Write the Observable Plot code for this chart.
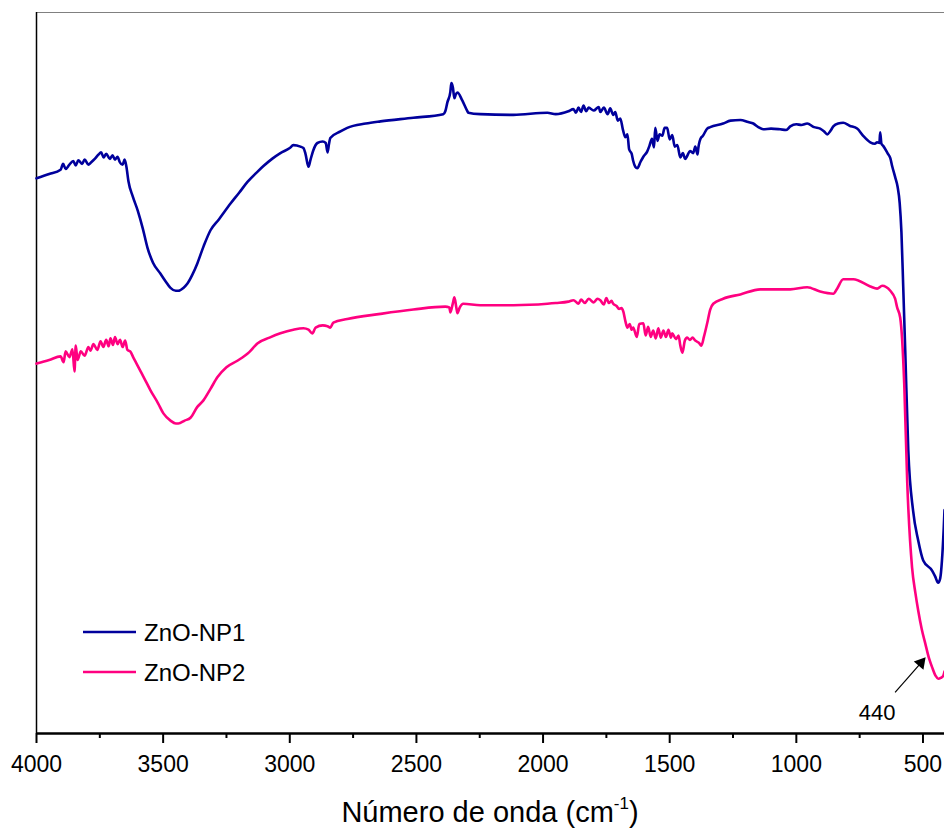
<!DOCTYPE html>
<html>
<head>
<meta charset="utf-8">
<script src="https://cdn.jsdelivr.net/npm/d3@7"></script>
<script src="https://cdn.jsdelivr.net/npm/@observablehq/plot@0.6"></script>
<style>
  html, body { margin: 0; padding: 0; background: #fff; }
  #chart { width: 944px; height: 830px; }
</style>
</head>
<body>
<div id="chart"></div>
<script>
// ---- Data (wavenumber cm^-1, transmittance a.u.) ----
const np1 = [
  [4000,77.0],[3950,77.6],[3905,78.2],[3895,79.0],[3885,78.3],[3870,78.9],[3855,79.4],[3845,78.8],
  [3835,79.5],[3820,79.0],[3810,79.6],[3795,78.9],[3785,79.2],[3770,79.7],[3755,80.3],[3745,80.6],
  [3735,79.9],[3725,80.4],[3710,79.7],[3700,80.2],[3690,79.6],[3680,80.0],[3672,79.3],[3660,78.9],
  [3652,79.6],[3645,78.6],[3637,76.6],[3620,74.5],[3600,72.5],[3580,70.0],[3562,67.4],[3540,65.3],
  [3511,63.8],[3490,62.7],[3471,61.8],[3450,61.4],[3440,61.4],[3420,61.8],[3404,62.4],[3385,63.6],
  [3365,65.2],[3340,67.6],[3313,69.8],[3280,71.3],[3234,73.5],[3200,75.0],[3167,76.5],[3128,77.9],
  [3104,78.7],[3070,79.7],[3037,80.5],[3000,81.2],[2986,81.6],[2958,81.4],[2946,81.2],[2938,80.4],
  [2926,78.6],[2918,79.6],[2907,80.9],[2891,81.9],[2870,82.1],[2858,81.9],[2851,80.6],[2845,81.8],
  [2840,82.6],[2800,83.5],[2773,84.0],[2700,84.6],[2642,84.9],[2512,85.4],[2394,85.9],[2386,86.3],
  [2378,87.5],[2366,89.0],[2362,90.2],[2356,89.6],[2350,88.1],[2345,88.6],[2338,88.9],[2319,87.8],
  [2300,86.4],[2295,86.1],[2248,85.9],[2117,85.8],[1983,86.1],[1950,85.9],[1900,86.3],[1880,86.6],
  [1870,86.1],[1860,86.8],[1850,86.2],[1840,87.1],[1830,86.3],[1820,86.8],[1800,86.4],[1780,86.9],
  [1774,86.2],[1760,86.8],[1745,85.9],[1735,86.7],[1723,85.8],[1715,86.2],[1705,85.0],[1695,85.3],
  [1685,83.8],[1675,82.7],[1667,83.1],[1660,81.0],[1650,80.4],[1644,79.4],[1636,78.6],[1628,78.4],
  [1615,79.3],[1604,80.0],[1589,80.7],[1580,81.5],[1570,82.5],[1562,81.3],[1557,84.0],[1548,82.2],
  [1540,83.1],[1529,82.9],[1520,84.0],[1510,84.0],[1500,82.4],[1490,83.0],[1480,81.4],[1470,81.6],
  [1458,79.9],[1448,80.5],[1439,79.7],[1431,80.1],[1420,80.8],[1407,80.5],[1399,81.4],[1390,80.3],
  [1387,81.2],[1375,82.7],[1371,82.8],[1352,83.9],[1340,84.1],[1289,84.6],[1260,85.0],[1221,85.1],
  [1190,84.8],[1170,84.6],[1150,84.1],[1131,83.8],[1100,83.9],[1064,83.8],[1040,83.7],[1024,84.2],
  [1000,84.5],[980,84.4],[957,84.6],[930,84.1],[906,83.9],[890,83.5],[878,83.1],[865,83.6],
  [854,84.2],[835,84.6],[815,84.7],[790,84.3],[760,83.9],[736,82.9],[708,82.0],[690,81.8],
  [681,82.0],[672,81.9],[669,83.4],[664,81.8],[657,81.5],[640,80.5],[629,79.8],[621,78.6],
  [610,77.2],[600,75.8],[592,73.6],[585,69.5],[578,62.0],[570,53.1],[558,39.3],[539,30.9],[519,26.8],
  [499,24.0],[464,22.6],[452,21.8],[440,20.9],[432,21.5],[425,24.0],[418,28.5],[415,31.0]
];

const np2 = [
  [4000,51.3],[3950,51.8],[3905,52.3],[3893,51.5],[3885,53.0],[3870,52.2],[3858,53.3],[3850,50.2],
  [3845,53.8],[3838,51.8],[3825,53.0],[3810,52.4],[3795,53.6],[3787,53.1],[3775,54.0],[3760,53.2],
  [3747,54.4],[3736,53.6],[3725,54.6],[3715,53.7],[3708,54.8],[3698,53.9],[3690,55.0],[3680,54.0],
  [3670,54.6],[3660,53.6],[3650,54.5],[3641,53.2],[3630,53.0],[3617,52.1],[3605,51.3],[3590,50.3],
  [3575,49.3],[3550,47.6],[3520,45.8],[3499,44.4],[3471,43.4],[3450,43.0],[3440,43.0],[3415,43.4],
  [3392,43.8],[3365,45.3],[3341,46.2],[3313,47.8],[3286,49.4],[3250,50.8],[3207,51.7],[3160,52.9],
  [3128,54.1],[3080,54.9],[3037,55.5],[2986,56.0],[2946,56.2],[2926,56.0],[2911,55.5],[2898,56.3],
  [2870,56.6],[2851,56.5],[2840,56.3],[2828,57.0],[2773,57.5],[2642,58.2],[2512,58.8],[2386,59.2],
  [2370,59.1],[2366,58.4],[2356,59.7],[2350,60.5],[2343,59.2],[2338,58.3],[2330,59.0],[2315,59.6],
  [2248,59.4],[2117,59.4],[1983,59.6],[1950,59.7],[1900,59.9],[1880,60.1],[1860,59.6],[1850,60.2],
  [1835,59.7],[1820,60.3],[1800,59.8],[1785,60.3],[1774,60.1],[1760,59.5],[1750,60.4],[1740,59.7],
  [1730,60.0],[1723,59.6],[1710,59.3],[1700,58.9],[1690,59.0],[1683,58.5],[1675,57.2],[1667,56.3],
  [1658,56.8],[1650,56.0],[1644,56.3],[1630,55.0],[1620,56.8],[1604,56.9],[1595,55.2],[1585,56.4],
  [1575,55.0],[1565,55.9],[1555,54.8],[1545,56.2],[1535,54.9],[1525,55.9],[1515,55.0],[1505,56.0],
  [1495,54.9],[1490,55.5],[1475,54.7],[1465,55.2],[1458,53.8],[1450,52.8],[1440,54.5],[1431,54.9],
  [1420,54.6],[1410,54.9],[1399,54.5],[1385,54.2],[1375,53.8],[1365,55.0],[1352,56.9],[1340,58.8],
  [1328,59.6],[1289,60.3],[1221,60.9],[1142,61.6],[1091,61.6],[1024,61.6],[957,61.9],[906,61.3],
  [854,61.0],[839,61.7],[815,63.0],[775,63.0],[708,62.0],[681,61.7],[661,62.1],[629,61.4],
  [610,60.3],[602,59.1],[590,57.7],[582,54.5],[574,48.5],[562,34.7],[543,23.0],[530,19.5],[519,17.1],
  [505,14.5],[491,12.5],[475,10.3],[464,9.2],[450,8.0],[440,7.6],[430,7.7],[420,8.0],[415,8.6]
];

const seriesNames = ["ZnO-NP1", "ZnO-NP2"];
const seriesColors = ["#00009c", "#ff0080"];
const majorTicks = [4000, 3500, 3000, 2500, 2000, 1500, 1000, 500];
const minorTicks = [3750, 3250, 2750, 2250, 1750, 1250, 750];
const annotationLabel = ["440"];
const arrowTail = [610, 5.7];
const arrowHead = [508, 9.8];
const labelPos = [681, 2.9];

const toRows = (arr) => arr.map(([w, v]) => ({w, v}));

const chart = Plot.plot({
  width: 944,
  height: 830,
  marginLeft: 36,
  marginRight: 0,
  marginTop: 12,
  marginBottom: 97,
  style: {fontFamily: "'Liberation Sans', Arial, sans-serif", background: "#fff", color: "#000", overflow: "visible"},
  x: {domain: [4000, 415]},
  y: {domain: [0, 100], axis: null},
  marks: [
    Plot.ruleY([100], {stroke: "#808080", strokeWidth: 1}),
    Plot.ruleX([4000], {stroke: "#000", strokeWidth: 1.5}),
    Plot.line(toRows(np1), {x: "w", y: "v", stroke: seriesColors[0], strokeWidth: 2.6, strokeLinejoin: "round", curve: "monotone-x"}),
    Plot.line(toRows(np2), {x: "w", y: "v", stroke: seriesColors[1], strokeWidth: 2.6, strokeLinejoin: "round", curve: "monotone-x"}),
    Plot.link([0], {x1: () => arrowTail[0], y1: () => arrowTail[1], x2: () => arrowHead[0], y2: () => arrowHead[1], stroke: "#000", strokeWidth: 1.2}),
    Plot.dot([0], {x: () => arrowHead[0], y: () => arrowHead[1], symbol: "triangle2", r: 6, fill: "#000", stroke: null, rotate: 40}),
    Plot.text(annotationLabel, {x: () => labelPos[0], y: () => labelPos[1], text: d => d, fontSize: 22, fill: "#000"}),
    Plot.axisX(minorTicks, {tickSize: 5, text: null, label: null, strokeWidth: 2}),
    Plot.axisX(majorTicks, {tickSize: 10, tickPadding: 12, fontSize: 23, label: null, strokeWidth: 2, tickFormat: d => String(d)}),
    Plot.ruleY([0], {stroke: "#000", strokeWidth: 2.5})
  ]
});

document.getElementById("chart").appendChild(chart);

const svg = d3.select(chart);

// Axis title with superscript
const title = svg.append("text")
  .attr("x", 490)
  .attr("y", 822)
  .attr("text-anchor", "middle")
  .attr("font-family", "'Liberation Sans', Arial, sans-serif")
  .attr("font-size", 29)
  .attr("fill", "#000");
title.append("tspan").text("Número de onda (cm");
title.append("tspan").attr("font-size", 17).attr("dy", -13).text("-1");
title.append("tspan").attr("dy", 13).text(")");

// Legend
const legend = svg.append("g").attr("text-anchor", "start");
seriesNames.forEach((name, i) => {
  const y = 632 + i * 40;
  legend.append("line")
    .attr("x1", 83).attr("x2", 136)
    .attr("y1", y).attr("y2", y)
    .attr("stroke", seriesColors[i]).attr("stroke-width", 2.6);
  legend.append("text")
    .attr("x", 144).attr("y", y + 9)
    .attr("text-anchor", "start")
    .attr("font-family", "'Liberation Sans', Arial, sans-serif")
    .attr("font-size", 24)
    .attr("fill", "#000")
    .text(name);
});
</script>
</body>
</html>
